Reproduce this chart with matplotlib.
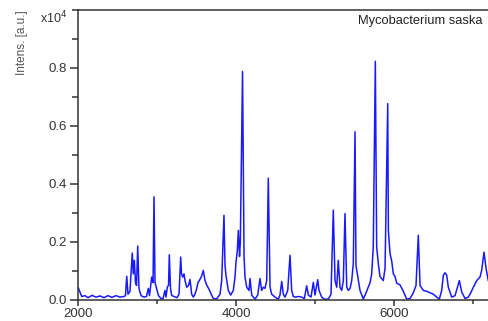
import matplotlib.pyplot as plt
from matplotlib.ticker import MultipleLocator

# spectrum: m/z and intensity (x10^4)
mz = [2004, 2047, 2089, 2127, 2177, 2228, 2279, 2329, 2380, 2430, 2481, 2532,
      2582, 2601, 2617, 2633, 2658, 2687, 2700, 2713, 2728, 2741, 2756, 2772,
      2798, 2836, 2867, 2890, 2905, 2933, 2950, 2962, 2975, 2994, 3019, 3051,
      3076, 3101, 3114, 3131, 3146, 3156, 3171, 3186, 3215, 3253, 3279, 3300,
      3311, 3326, 3342, 3355, 3376, 3399, 3418, 3439, 3460, 3481, 3503, 3519,
      3536, 3566, 3586, 3608, 3629, 3662, 3693, 3713, 3756, 3798, 3819, 3848,
      3861, 3874, 3903, 3933, 3966, 3988, 4000, 4017, 4030, 4045, 4055, 4083,
      4102, 4114, 4136, 4165, 4178, 4199, 4241, 4275, 4304, 4325, 4346, 4367,
      4389, 4409, 4431, 4452, 4494, 4536, 4557, 4579, 4599, 4620, 4655, 4684,
      4705, 4726, 4747, 4789, 4832, 4865, 4895, 4916, 4950, 4979, 5000, 5035,
      5051, 5085, 5118, 5169, 5203, 5232, 5254, 5275, 5295, 5317, 5338, 5359,
      5380, 5402, 5422, 5444, 5465, 5485, 5507, 5519, 5549, 5570, 5612, 5654,
      5697, 5718, 5738, 5764, 5781, 5802, 5823, 5865, 5887, 5921, 5929, 5950,
      5972, 5992, 6013, 6035, 6077, 6118, 6161, 6203, 6245, 6279, 6308, 6330,
      6372, 6415, 6456, 6498, 6541, 6574, 6604, 6625, 6646, 6668, 6688, 6731,
      6773, 6828, 6858, 6900, 6941, 6963, 7005, 7048, 7089, 7110, 7140, 7165,
      7194, 7215]
intens = [0.042, 0.012, 0.015, 0.008, 0.016, 0.010, 0.014, 0.008, 0.015, 0.009, 0.015, 0.010,
          0.012, 0.015, 0.082, 0.020, 0.030, 0.162, 0.090, 0.137, 0.060, 0.050, 0.186, 0.040,
          0.015, 0.010, 0.012, 0.040, 0.015, 0.079, 0.060, 0.356, 0.060, 0.040, 0.015, 0.005,
          0.004, 0.033, 0.010, 0.045, 0.050, 0.156, 0.040, 0.016, 0.012, 0.008, 0.020, 0.148,
          0.090, 0.079, 0.090, 0.067, 0.044, 0.050, 0.071, 0.020, 0.010, 0.020, 0.040, 0.060,
          0.067, 0.083, 0.102, 0.067, 0.052, 0.035, 0.016, 0.005, 0.004, 0.020, 0.067, 0.292,
          0.120, 0.083, 0.033, 0.017, 0.033, 0.080, 0.131, 0.170, 0.240, 0.150, 0.200, 0.788,
          0.150, 0.079, 0.044, 0.033, 0.074, 0.017, 0.003, 0.017, 0.074, 0.033, 0.044, 0.040,
          0.067, 0.420, 0.044, 0.020, 0.010, 0.003, 0.017, 0.064, 0.020, 0.010, 0.033, 0.154,
          0.033, 0.012, 0.010, 0.012, 0.010, 0.005, 0.049, 0.017, 0.010, 0.061, 0.017, 0.070,
          0.033, 0.010, 0.003, 0.003, 0.020, 0.310, 0.067, 0.044, 0.137, 0.044, 0.033, 0.067,
          0.298, 0.044, 0.033, 0.040, 0.067, 0.125, 0.580, 0.119, 0.067, 0.033, 0.003, 0.030,
          0.060, 0.090, 0.183, 0.823, 0.183, 0.125, 0.081, 0.067, 0.110, 0.677, 0.240, 0.160,
          0.133, 0.090, 0.081, 0.058, 0.052, 0.030, 0.003, 0.005, 0.025, 0.050, 0.223, 0.050,
          0.033, 0.030, 0.025, 0.020, 0.010, 0.003, 0.033, 0.085, 0.094, 0.085, 0.044, 0.010,
          0.015, 0.067, 0.027, 0.005, 0.010, 0.020, 0.044, 0.067, 0.079, 0.102, 0.165, 0.110,
          0.067, 0.060]

# only the visible part of the sample name (the rest runs off the edge)
title = 'Mycobacterium saska'

plt.rcParams['font.family'] = ['Liberation Sans', 'DejaVu Sans']

fig = plt.figure(figsize=(4.89, 3.21), dpi=100)
ax = fig.add_axes([78 / 489, 21 / 321, 411 / 489, 290 / 321])

ax.plot(mz, intens, color='#0000ff', lw=1.1, alpha=0.9)

ax.set_xlim(2000, 7203)
ax.set_ylim(0, 1.0)

ax.xaxis.set_major_locator(MultipleLocator(2000))
ax.xaxis.set_minor_locator(MultipleLocator(1000))
ax.set_yticks([0.0, 0.2, 0.4, 0.6, 0.8])
ax.set_yticklabels(['0.0', '0.2', '0.4', '0.6', '0.8'])
ax.yaxis.set_minor_locator(MultipleLocator(0.1))

ax.spines['right'].set_visible(False)
for s in ['left', 'bottom', 'top']:
    ax.spines[s].set_color('#333333')
    ax.spines[s].set_linewidth(1.1)

ax.tick_params(axis='y', which='major', length=6, width=1.1, color='#333333',
               labelsize=9.5, labelcolor='#333333', pad=2)
ax.tick_params(axis='y', which='minor', length=4, width=1.1, color='#333333')
ax.tick_params(axis='x', which='major', length=4, width=1.1, color='#333333',
               labelsize=9.5, labelcolor='#333333', pad=2)
ax.tick_params(axis='x', which='minor', length=3, width=1.1, color='#333333')

fig.text(22 / 489, 1 - 10 / 321, 'Intens. [a.u.]', rotation=90, ha='center', va='top',
         fontsize=8.5, color='#555555')
fig.text(40 / 489, 1 - 18 / 321, 'x10$^4$', ha='left', va='center',
         fontsize=9, color='#333333')
fig.text(358 / 489, 1 - 21 / 321, title, ha='left', va='center',
         fontsize=9.3, color='#222222')

fig.savefig('out.png', dpi=100)
